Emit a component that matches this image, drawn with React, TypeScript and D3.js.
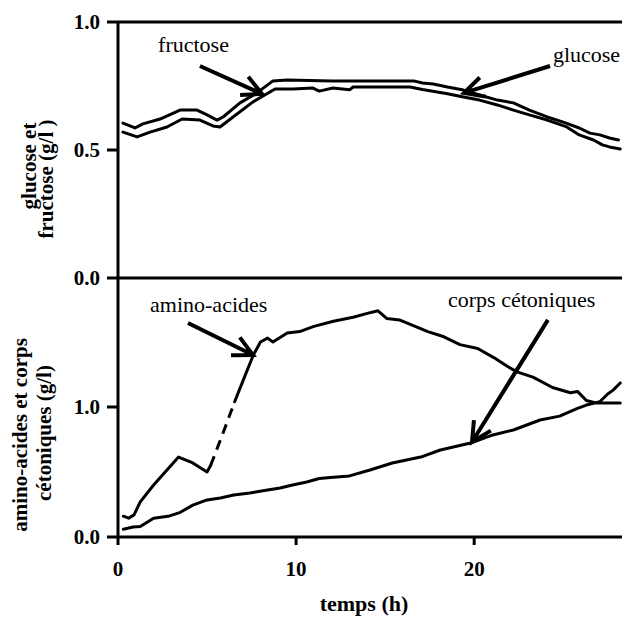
import * as d3 from "d3";

type Pt = [number, number];

// upper panel (g/l) against time (h)
const fructose: Pt[] = [
  [0.28, 0.605], [0.95, 0.586], [1.4, 0.602], [2.36, 0.621], [3.48, 0.656], [4.44, 0.656],
  [5.0, 0.637], [5.56, 0.617], [5.9, 0.629], [6.85, 0.684], [7.8, 0.723], [8.7, 0.77],
  [9.5, 0.773], [12.0, 0.77], [14.7, 0.77], [16.6, 0.77], [17.1, 0.762], [17.7, 0.758],
  [18.5, 0.746], [19.4, 0.734], [20.3, 0.715], [21.3, 0.695], [22.2, 0.684], [23.1, 0.656],
  [24.1, 0.629], [25.0, 0.609], [25.9, 0.586], [26.5, 0.566], [27.06, 0.559], [27.6, 0.547],
  [28.1, 0.539],
];
const glucose: Pt[] = [
  [0.28, 0.57], [1.07, 0.551], [1.8, 0.57], [2.75, 0.59], [3.6, 0.621], [4.6, 0.617],
  [5.33, 0.594], [5.73, 0.59], [6.46, 0.629], [7.58, 0.688], [8.82, 0.738], [9.83, 0.738],
  [10.95, 0.742], [11.3, 0.73], [12.07, 0.742], [13.0, 0.735], [13.2, 0.746], [14.7, 0.746],
  [16.4, 0.746], [17.1, 0.736], [18.5, 0.72], [19.4, 0.707], [20.3, 0.695], [21.3, 0.676],
  [22.2, 0.656], [23.1, 0.637], [24.1, 0.617], [25.2, 0.59], [25.9, 0.559], [26.7, 0.539],
  [27.2, 0.52], [27.6, 0.512], [28.2, 0.504],
];

// lower panel (g/l)
const aminoEarly: Pt[] = [
  [0.3, 0.16], [0.6, 0.145], [0.9, 0.17], [1.25, 0.27], [2.0, 0.4], [2.75, 0.515],
  [3.4, 0.615], [4.2, 0.57], [5.0, 0.5], [5.2, 0.55],
];
const aminoGap: Pt[] = [[5.2, 0.55], [5.9, 0.8], [6.55, 1.04]];
const aminoLate: Pt[] = [
  [6.55, 1.04], [7.1, 1.23], [7.6, 1.4], [8.0, 1.5], [8.4, 1.53], [8.7, 1.5], [9.5, 1.57],
  [10.2, 1.58], [11.0, 1.62], [12.1, 1.66], [13.2, 1.69], [14.0, 1.72], [14.6, 1.74],
  [15.1, 1.68], [15.8, 1.67], [17.4, 1.58], [18.3, 1.54], [19.2, 1.48], [20.2, 1.45],
  [21.1, 1.38], [21.9, 1.31], [22.4, 1.27], [23.3, 1.23], [24.4, 1.15], [25.4, 1.11],
  [25.8, 1.12], [26.3, 1.05], [26.9, 1.03], [28.2, 1.03],
];
const ketones: Pt[] = [
  [0.3, 0.06], [0.85, 0.077], [1.25, 0.08], [2.0, 0.145], [2.9, 0.162], [3.5, 0.19],
  [4.2, 0.245], [5.0, 0.285], [5.75, 0.3], [6.5, 0.323], [7.4, 0.338], [8.4, 0.362],
  [9.1, 0.377], [9.8, 0.4], [10.6, 0.423], [11.3, 0.45], [12.1, 0.46], [13.0, 0.47],
  [14.15, 0.515], [15.4, 0.569], [17.0, 0.615], [18.1, 0.669], [19.8, 0.723], [21.05, 0.785],
  [22.2, 0.823], [23.7, 0.9], [24.8, 0.93], [25.8, 0.99], [26.3, 1.015], [27.05, 1.04],
  [27.5, 1.1], [27.8, 1.13], [28.2, 1.185],
];

const xTicks = [0, 10, 20];
const topTicks = [0, 0.5, 1];
const bottomTicks = [0, 1];

// annotation: label anchor, arrow tail, arrow tip (data units)
const topNotes = [
  { text: "fructose", at: [2.25, 0.883], from: [4.6, 0.828], to: [8.09, 0.719] },
  { text: "glucose", at: [24.42, 0.844], from: [24.26, 0.828], to: [19.43, 0.723] },
];
const bottomNotes = [
  { text: "amino-acides", at: [1.8, 1.73], from: [3.93, 1.646], to: [7.58, 1.4] },
  { text: "corps cétoniques", at: [18.53, 1.77], from: [24.14, 1.67], to: [19.88, 0.731] },
];

const W = 627;
const H = 619;
const serif = "Liberation Serif, Times New Roman, serif";

const x = d3.scaleLinear().domain([0, 28.3]).range([118, 622]);
const yTop = d3.scaleLinear().domain([0, 1]).range([278, 22]);
const yBot = d3.scaleLinear().domain([0, 2]).range([537, 277]);
const fmt = d3.format(".1f");

function arrowPath(p0: number[], p1: number[]) {
  const ang = Math.atan2(p0[1] - p1[1], p0[0] - p1[0]);
  const len = 22;
  const a = (27 * Math.PI) / 180;
  const b1 = [p1[0] + len * Math.cos(ang + a), p1[1] + len * Math.sin(ang + a)];
  const b2 = [p1[0] + len * Math.cos(ang - a), p1[1] + len * Math.sin(ang - a)];
  return `M${p0[0]},${p0[1]}L${p1[0]},${p1[1]}M${b1[0]},${b1[1]}L${p1[0]},${p1[1]}L${b2[0]},${b2[1]}`;
}

export default function App() {
  const lineTop = d3.line<Pt>().x((d) => x(d[0])).y((d) => yTop(d[1]));
  const lineBot = d3.line<Pt>().x((d) => x(d[0])).y((d) => yBot(d[1]));
  const x0 = x(0);
  const x1 = x.range()[1];

  return (
    <svg width={W} height={H}
      style={{ position: "absolute", left: 0, top: 0, background: "#fff", fontFamily: serif }}>
      {/* frame */}
      <g stroke="#000" strokeWidth={3} fill="none">
        <line x1={x0} x2={x0} y1={yTop(1)} y2={yBot(0) + 8} />
        <line x1={x0 - 11} x2={x1} y1={yTop(1)} y2={yTop(1)} />
        <line x1={x0 - 11} x2={x1} y1={yTop(0)} y2={yTop(0)} />
        <line x1={x0 - 11} x2={x1} y1={yBot(0)} y2={yBot(0)} />
        <line x1={x0 - 11} x2={x0} y1={yTop(0.5)} y2={yTop(0.5)} />
        <line x1={x0 - 11} x2={x0} y1={yBot(1)} y2={yBot(1)} />
        {xTicks.filter((t) => t > 0).map((t) => (
          <line key={t} x1={x(t)} x2={x(t)} y1={yBot(0)} y2={yBot(0) + 8} />
        ))}
      </g>

      {/* tick labels */}
      <g fontWeight="bold" fontSize={21} fill="#000">
        {topTicks.map((t) => (
          <text key={"t" + t} x={100} y={yTop(t)} dy="0.35em" textAnchor="end">{fmt(t)}</text>
        ))}
        {bottomTicks.map((t) => (
          <text key={"b" + t} x={100} y={yBot(t)} dy="0.35em" textAnchor="end">{fmt(t)}</text>
        ))}
        {xTicks.map((t) => (
          <text key={"x" + t} x={x(t)} y={576} textAnchor="middle">{t}</text>
        ))}
        <text x={364} y={611} textAnchor="middle" fontSize={22}>temps (h)</text>
        <text transform="translate(36,166) rotate(-90)" textAnchor="middle">glucose et</text>
        <text transform="translate(53,179) rotate(-90)" textAnchor="middle">fructose (g/l )</text>
        <text transform="translate(27,435) rotate(-90)" textAnchor="middle">amino-acides et corps</text>
        <text transform="translate(51,433) rotate(-90)" textAnchor="middle">cétoniques (g/l)</text>
      </g>

      {/* series */}
      <g fill="none" stroke="#000" strokeWidth={3} strokeLinejoin="round" strokeLinecap="round">
        <path d={lineTop(fructose) ?? ""} />
        <path d={lineTop(glucose) ?? ""} />
        <path d={lineBot(aminoEarly) ?? ""} />
        <path d={lineBot(aminoGap) ?? ""} strokeDasharray="10 7" strokeLinecap="butt" />
        <path d={lineBot(aminoLate) ?? ""} />
        <path d={lineBot(ketones) ?? ""} />
      </g>

      {/* annotations */}
      <g fontSize={22} fill="#000">
        {topNotes.map((n) => (
          <g key={n.text}>
            <text x={x(n.at[0])} y={yTop(n.at[1])}>{n.text}</text>
            <path d={arrowPath([x(n.from[0]), yTop(n.from[1])], [x(n.to[0]), yTop(n.to[1])])}
              stroke="#000" strokeWidth={4} fill="none" />
          </g>
        ))}
        {bottomNotes.map((n) => (
          <g key={n.text}>
            <text x={x(n.at[0])} y={yBot(n.at[1])}>{n.text}</text>
            <path d={arrowPath([x(n.from[0]), yBot(n.from[1])], [x(n.to[0]), yBot(n.to[1])])}
              stroke="#000" strokeWidth={4} fill="none" />
          </g>
        ))}
      </g>
    </svg>
  );
}
